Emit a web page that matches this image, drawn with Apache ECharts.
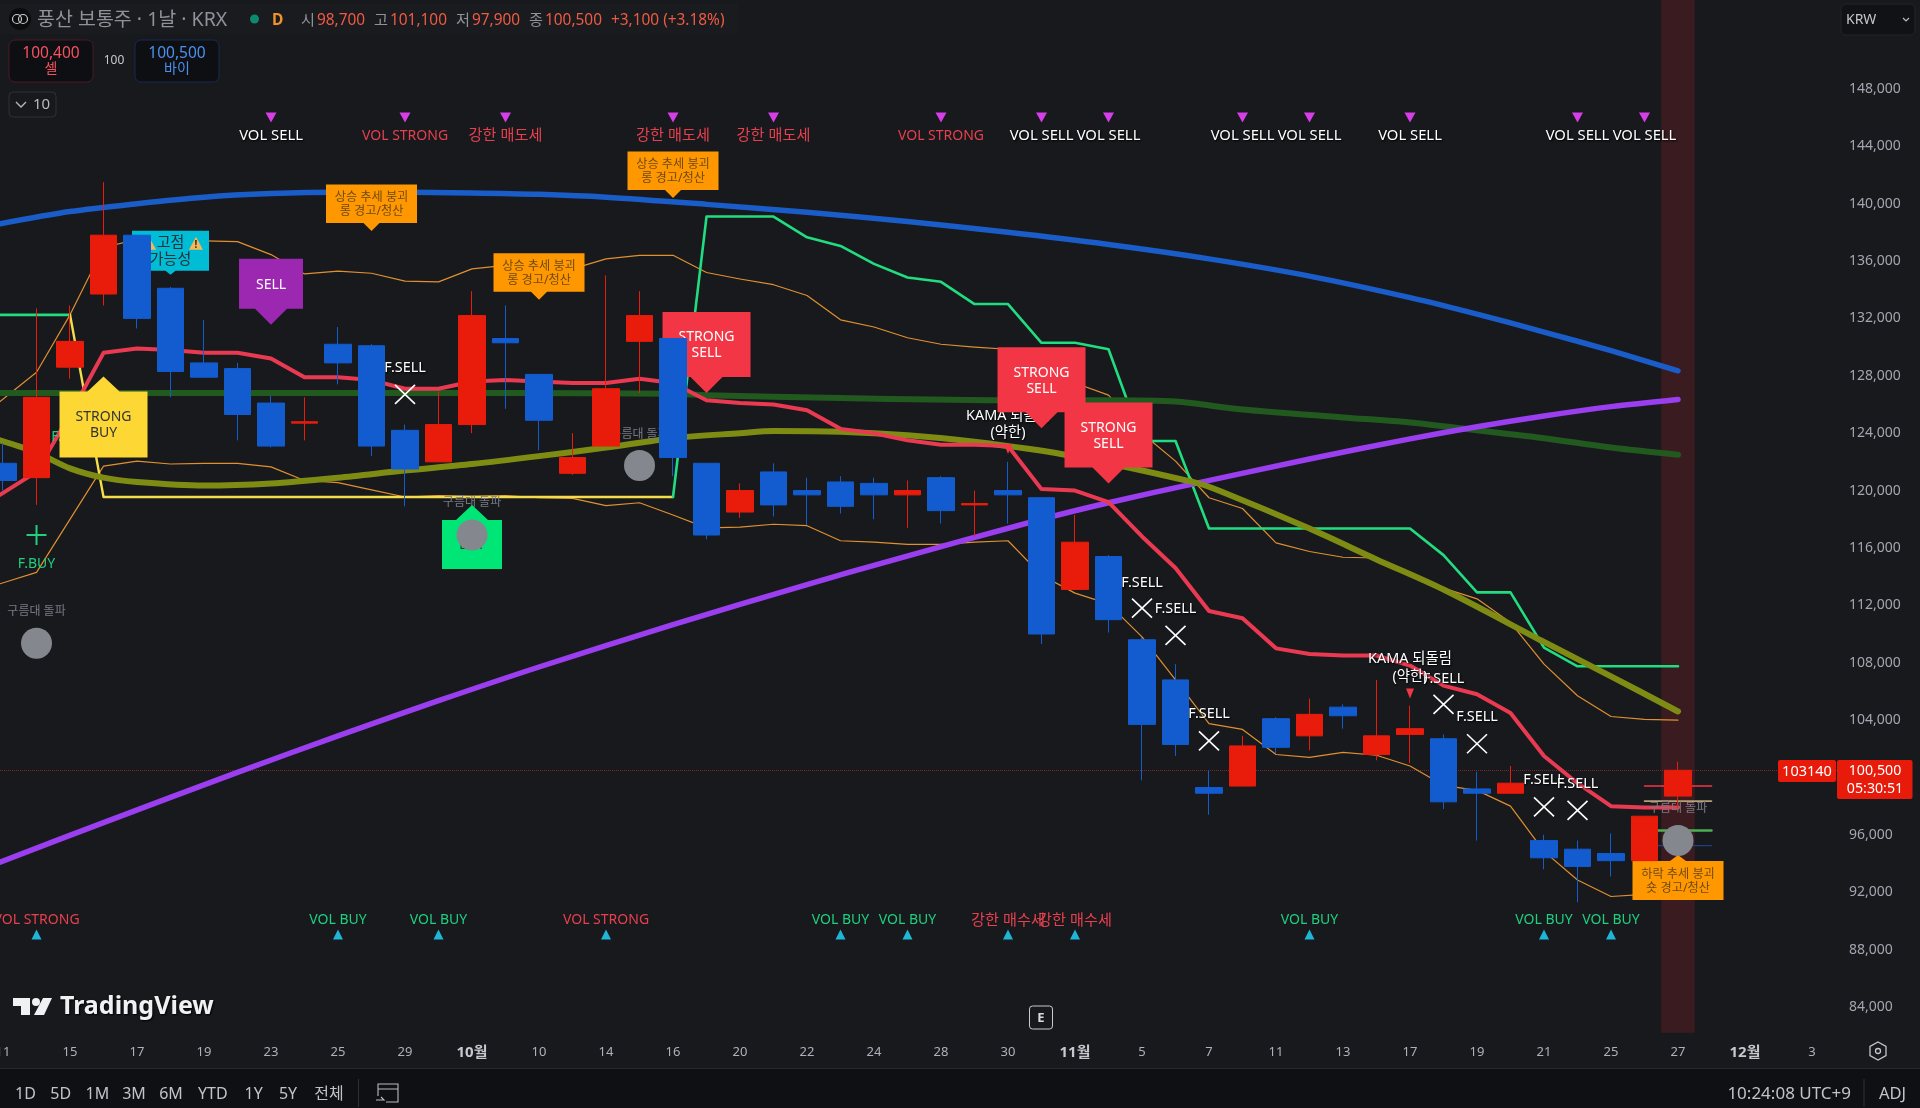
<!DOCTYPE html>
<html lang="ko"><head><meta charset="utf-8">
<style>html,body{margin:0;padding:0;background:#17191d}#c{width:1920px;height:1108px}</style>
<script src="https://cdn.jsdelivr.net/npm/echarts@6/dist/echarts.min.js"></script>
</head><body><div id="c"></div>
<script>
// ---------- data ----------
const barIndex = [...Array(51).keys()];
const opens  = [121900,120900,128600,133700,137800,134100,128900,128500,126100,124700,130200,130100,124200,122000,124600,130600,128100,121200,123100,130400,130600,121900,118500,121300,120000,120600,120500,119700,120900,119000,120000,119500,113100,115400,109600,106800,99300,99400,104100,102900,104900,101600,103000,102700,99200,98900,95600,95000,94700,94200,98700];
const closes = [120700,126500,130400,137800,132000,128300,127900,125300,123100,124800,128900,123100,121500,124600,132200,130300,124900,122300,127100,132200,122300,116900,120000,119000,119700,118900,119700,120000,118600,119100,119700,110000,116400,111000,103700,102300,98900,102200,102100,104400,104300,102900,103400,98300,98900,99600,94400,93800,94200,97300,100500];
const lows   = [120000,119000,127800,132900,131300,126500,127900,123500,123000,123500,127400,122400,118900,122000,124000,125700,122800,121100,123100,126800,121000,116600,118100,118200,117600,118400,118000,117400,117700,116800,117700,109300,113100,110100,99800,101500,97400,99400,101700,101900,103400,101200,101000,97800,95600,98900,93600,91300,93100,94200,97900];
const highs  = [123300,132700,132900,141500,137800,134200,131900,128900,126600,126500,131400,130200,124600,126900,133900,132900,128100,124000,135000,133900,130600,121900,120500,121900,120900,121000,120900,120700,121000,120000,122000,119500,118300,115500,109800,107900,100500,102900,104200,105500,105100,106800,105000,103000,100400,100800,96000,95600,96100,97300,101100];

const kamaLine = [[-0.09,119700],[1,121300],[2,125300],[3,129600],[4,129900],[5,129800],[6,129600],[7,129600],[8,129200],[9,127900],[10,127900],[11,127700],[12,127100],[13,127100],[14,127600],[15,127700],[16,127600],[17,127500],[18,127500],[19,127800],[20,127500],[21,126300],[22,126100],[23,126000],[24,125600],[25,124300],[26,124000],[27,123500],[28,123200],[29,123200],[30,123100],[31,120100],[32,120000],[33,119200],[34,116800],[35,114600],[36,111600],[37,111100],[38,109000],[39,108600],[40,108500],[41,108500],[42,107800],[43,106400],[44,105800],[45,104500],[46,101500],[47,99600],[48,98000],[49,97900],[50,97900]];
const slowGreen = [[-0.09,126800],[5,126800],[10,126800],[15,126800],[20,126750],[21,126650],[25,126450],[30,126300],[33,126300],[35,126200],[37,125650],[40,125100],[42,124750],[44,124200],[46,123650],[48,123000],[50,122500]];
const longBlue = [[-0.09,138600],[2,139450],[4,140000],[6,140450],[8,140700],[10,140800],[12,140800],[14,140750],[16,140650],[18,140450],[21,139950],[24,139400],[27,138750],[30,138000],[33,137150],[36,136150],[39,134950],[42,133450],[44,132300],[46,131050],[48,129750],[50,128350]];
const longPurple = [[-0.09,94100],[3,96850],[7,100350],[10,102900],[13,105350],[16,107700],[20,110650],[24,113450],[26.4,115050],[31,118000],[33,119150],[35.6,120500],[39,122200],[42,123600],[44,124450],[46,125200],[48,125850],[50,126350]];
const oliveLine = [[-0.09,123500],[1,122650],[2,121550],[3,120900],[4,120600],[6,120350],[8,120500],[10,120900],[12,121400],[14,121850],[16,122400],[18,123000],[20,123650],[22,124000],[23,124150],[25,124100],[27,123850],[29,123400],[31.7,122500],[35.6,120550],[36.4,119900],[39,117350],[41,115200],[43,113100],[46,109450],[48,107050],[50,104600]];
const stopGreenA = [[-0.09,132250],[2,132250]];
const stopYellow = [[2,132250],[3,119550],[20,119550]];
const stopGreenB = [[20,119550],[21,139100],[23,139100],[24,137650],[25,137050],[26,135800],[27,134850],[28,134550],[29,133000],[30,133000],[31,130300],[32,130300],[33,129850],[34,123450],[35,123450],[36,117350],[42,117350],[43,115500],[44,112900],[45,112900],[46,109050],[47,107750],[50,107750]];
const bandUpper = [[-0.09,126200],[1,128250],[2,132250],[3,136950],[4,137500],[5,137500],[6,137400],[7,137350],[8,136450],[9,135100],[10,135300],[11,135150],[12,134600],[13,134550],[14,135450],[15,135700],[16,135700],[17,135450],[18,136150],[19,136400],[20,136400],[21,135200],[22,134750],[23,134350],[24,133600],[25,131900],[26,131400],[27,130650],[28,130200],[29,130000],[30,129850],[32,127500],[33,126650],[34,124000],[35,122050],[36,119500],[37,118750],[38,116350],[39,115750],[40,115350],[41,115300],[42,114300],[43,113200],[44,112450],[45,110800],[46,107900],[47,105700],[48,104250],[49,104050],[50,104000]];
const bandLower = [[-0.09,113500],[1,114300],[3,121700],[4,122050],[5,121850],[6,121900],[7,121900],[8,121650],[9,120700],[10,120550],[11,120050],[12,119550],[13,119650],[14,119600],[15,119650],[16,119500],[17,119450],[18,118950],[19,119150],[20,118300],[21,117400],[22,117450],[23,117650],[24,117550],[25,116500],[26,116400],[27,116250],[28,116250],[29,116400],[30,116500],[31,114100],[32,112850],[33,112100],[34,109800],[35,106800],[36,103750],[37,103350],[38,101600],[39,101400],[40,101750],[41,101550],[42,100800],[43,99450],[44,99100],[45,98000],[46,94850],[47,92850],[48,91700],[49,91850],[50,92000]];
const lastRed = [[49,99400],[51,99400]];
const lastTan = [[49,98350],[51,98350]];
const lastGreen = [[49,96300],[51,96300]];
const lastBlue = [[49,95250],[51,95250]];

const lastPrice = 100500;
const stripeFrom = 49.5, stripeTo = 50.5;
const priceTicks = [84000,88000,92000,96000,104000,108000,112000,116000,120000,124000,128000,132000,136000,140000,144000,148000];
const timeTicks = [0,2,4,6,8,10,12,14,16,18,20,22,24,26,28,30,32,34,36,38,40,42,44,46,48,50,52,54];
const timeLabels = ['11','15','17','19','23','25','29','10월','10','14','16','20','22','24','28','30','11월','5','7','11','13','17','19','21','25','27','12월','3'];

const flagKinds = ['cyan','orange','orange','orange','sell','strongBuy','strongSell','strongSell','strongSell','buy','orangeUp'];
const flagBars  = [5,11,16,20,8,3,21,31,33,14,50];
const flagPrice = [135050,138100,133300,140400,131550,127950,126800,124350,120500,119000,94600];
const flagTexts = ['고점\n가능성','상승 추세 붕괴\n롱 경고/청산','상승 추세 붕괴\n롱 경고/청산','상승 추세 붕괴\n롱 경고/청산','SELL','STRONG\nBUY','STRONG\nSELL','STRONG\nSELL','STRONG\nSELL','BUY','하락 추세 붕괴\n숏 경고/청산'];

const sellMarkBars = [8,12,15,20,23,28,31,33,37,39,42,47,49];
const sellMarkTexts = ['VOL SELL','VOL STRONG','강한 매도세','강한 매도세','강한 매도세','VOL STRONG','VOL SELL','VOL SELL','VOL SELL','VOL SELL','VOL SELL','VOL SELL','VOL SELL'];
const sellMarkPrice = 146000, sellTextPrice = 144800;
const buyMarkBars = [1,10,13,18,25,27,30,32,39,46,48];
const buyMarkTexts = ['VOL STRONG','VOL BUY','VOL BUY','VOL STRONG','VOL BUY','VOL BUY','강한 매수세','강한 매수세','VOL BUY','VOL BUY','VOL BUY'];
const buyMarkPrice = 89050, buyTextPrice = 90100;

const fsellBars  = [12,34,35,36,43,44,46,47];
const fsellText  = [128650,113650,111800,104500,106950,104300,99900,99650];
const fsellCross = [126700,111800,109900,102550,105100,102350,97950,97700];
const fbuyCrossBar = [1], fbuyCrossPrice = [116900];
const fbuyBars = [1,2], fbuyText = [114950,123800];
const cloudBars = [1,14,19,50];
const cloudDot  = [109350,116900,121750,95600];
const cloudText = [111650,119200,123950,97900];
const kamaBars = [30,42];
const kamaText = [124700,107700];
const kamaMark = [122900,105850];
const warnBars = [4.36,5.76], warnPrice = [137200,137200];

// ---------- styling ----------
const FONT = '"Noto Sans","Noto Sans CJK KR",sans-serif';
const BG = '#17191d';
const FLAG = {
  cyan:{w:77,h:40,ah:4,aw:5,fill:'#00bcd4',ink:'#26303a',fs:15,lh:17},
  orange:{w:91,h:38.5,ah:8,aw:8,fill:'#ff9800',ink:'#6e4a10',fs:12.2,lh:13.5},
  orangeUp:{w:91,h:39,ah:6,aw:8,fill:'#ff9800',ink:'#6e4a10',fs:12.2,lh:13.5,up:1},
  sell:{w:64,h:50,ah:16,aw:16,fill:'#9c27b0',ink:'#fff',fs:14,lh:16},
  strongBuy:{w:88,h:66,ah:15,aw:16,fill:'#fdd835',ink:'#333',fs:14,lh:16,up:1},
  strongSell:{w:88,h:65,ah:16,aw:16,fill:'#f23645',ink:'#fff',fs:14,lh:16},
  buy:{w:60,h:49,ah:15,aw:16,fill:'#00e676',ink:'#333',fs:13,lh:16,up:1}
};
const TEXT = {
  white:{fill:'#fff',fs:14.4,shadow:1},
  vol:{fill:'#fff',fs:14.8,shadow:1},
  redEn:{fill:'#e8404e',fs:14},
  redKo:{fill:'#e8404e',fs:15.2},
  green:{fill:'#1fd07f',fs:14},
  grey:{fill:'#787b86',fs:12}
};
function volStyle(t){ return t==='VOL SELL'?'vol':(t==='VOL BUY'?'green':(t==='VOL STRONG'?'redEn':'redKo')); }

const labelRows=[];
sellMarkBars.forEach((b,k)=>labelRows.push([b,sellTextPrice,sellMarkTexts[k],volStyle(sellMarkTexts[k])]));
buyMarkBars.forEach((b,k)=>labelRows.push([b,buyTextPrice,buyMarkTexts[k],volStyle(buyMarkTexts[k])]));
fsellBars.forEach((b,k)=>labelRows.push([b,fsellText[k],'F.SELL','white']));
fbuyBars.forEach((b,k)=>labelRows.push([b,fbuyText[k],'F.BUY','green']));
cloudBars.forEach((b,k)=>labelRows.push([b,cloudText[k],'구름대 돌파','grey']));
kamaBars.forEach((b,k)=>labelRows.push([b,kamaText[k],'KAMA 되돌림\n(약한)','white']));

const warnRows=warnBars.map((b,k)=>[b,warnPrice[k]]);

const glyphRows=[];
sellMarkBars.forEach(b=>glyphRows.push([b,sellMarkPrice,'down','#d63fe8',5.5,5]));
buyMarkBars.forEach(b=>glyphRows.push([b,buyMarkPrice,'up','#1fb6d6',5,5]));
kamaBars.forEach((b,k)=>glyphRows.push([b,kamaMark[k],'down','#f23645',4,5]));
fsellBars.forEach((b,k)=>glyphRows.push([b,fsellCross[k],'x','#ffffff',10,9.5]));
fbuyCrossBar.forEach((b,k)=>glyphRows.push([b,fbuyCrossPrice[k],'plus','#22d07a',10,10]));

function line(name,data,color,width,smooth,z){
  return {name,type:'line',data,symbol:'none',smooth:smooth?0.3:false,z:z||3,silent:true,clip:false,
    lineStyle:{color,width,cap:'round',join:'round'},animation:false};
}
const grid={left:0,top:0.7,width:1838,height:1032,outerBoundsMode:'none',containLabel:false};
const option={
  animation:false,backgroundColor:BG,
  textStyle:{fontFamily:FONT},
  grid,
  xAxis:{type:'value',min:-0.09,max:54.776,containShape:false,splitLine:{show:false},axisLine:{show:false},axisTick:{show:false},
    axisLabel:{customValues:timeTicks,margin:13,hideOverlap:false,color:'#aeb1ba',fontSize:13,fontFamily:FONT,
      formatter:v=>{const t=timeLabels[timeTicks.indexOf(v)]||'';return t.endsWith('월')?'{m|'+t+'}':t;},
      rich:{m:{fontWeight:'bold',fontSize:15,color:'#c6c8cf',fontFamily:FONT}}}},
  yAxis:{type:'value',position:'right',min:82207,max:154148,scale:true,splitLine:{show:false},axisLine:{show:false},axisTick:{show:false},
    axisLabel:{customValues:priceTicks,margin:11,padding:[2,0,0,0],color:'#a3a6af',fontSize:14,fontFamily:FONT,
      formatter:v=>v.toLocaleString('en-US')}},
  series:[
    {type:'custom',name:'stripe',z:1,silent:true,clip:false,data:[[stripeFrom,stripeTo]],encode:{x:[0,1]},
      renderItem:(p,api)=>{const a=api.coord([api.value(0),154148]),b=api.coord([api.value(1),82207]);
        return {type:'rect',shape:{x:a[0],y:0,width:b[0]-a[0],height:b[1]},style:{fill:'#3a1c20'}};}},
    line('bandUpper',bandUpper,'#e0902f',1.2),
    line('bandLower',bandLower,'#e0902f',1.2),
    line('stopA',stopGreenA,'#22dd80',2.6),
    line('stopY',stopYellow,'#f5dc4a',2.4),
    line('stopB',stopGreenB,'#22dd80',2.6),
    line('slow',slowGreen,'#22591f',6,true),
    line('blue',longBlue,'#1a5cc8',5.5,true),
    line('purple',longPurple,'#9a3ef0',5.5,true),
    line('olive',oliveLine,'#7f8c14',6,true),
    line('kama',kamaLine,'#ea3a52',4),
    line('lastR',lastRed,'#f23645',1.6),
    line('lastT',lastTan,'#b79f74',1.6),
    line('lastG',lastGreen,'#4caf50',2.4),
    line('lastB',lastBlue,'#1d3f8c',1.4),
    {type:'custom',name:'labels',z:3.5,silent:true,clip:false,data:labelRows.map(r=>[r[0],r[1]]),encode:{x:0,y:1},
      renderItem:(p,api)=>{
        const r=labelRows[p.dataIndex],s=TEXT[r[3]],c=api.coord([r[0],r[1]]);
        const st={x:c[0],y:c[1]+1,text:r[2],fill:s.fill,fontSize:s.fs,fontFamily:FONT,align:'center',verticalAlign:'middle',lineHeight:s.fs+3};
        if(s.shadow){st.textShadowColor='#000';st.textShadowBlur=2;st.textShadowOffsetX=1;st.textShadowOffsetY=1;}
        return {type:'text',style:st};}},
    {type:'custom',name:'flags',z:4,silent:true,clip:false,data:flagBars.map((b,k)=>[b,flagPrice[k]]),encode:{x:0,y:1},
      renderItem:(p,api)=>{
        const k=p.dataIndex,s=FLAG[flagKinds[k]],c=api.coord([api.value(0),api.value(1)]),x=c[0],y=c[1];
        const d=s.up?1:-1, y1=y+d*s.ah, y2=y1+d*s.h, l=x-s.w/2, r=x+s.w/2;
        return {type:'group',children:[
          {type:'polygon',shape:{points:[[x,y],[x+s.aw,y1],[r,y1],[r,y2],[l,y2],[l,y1],[x-s.aw,y1]]},style:{fill:s.fill}},
          {type:'text',style:{x,y:(y1+y2)/2+1,text:flagTexts[k],fill:s.ink,fontSize:s.fs,fontFamily:FONT,align:'center',verticalAlign:'middle',lineHeight:s.lh}}
        ]};}},
    {type:'custom',name:'warns',z:4.5,silent:true,clip:false,data:warnRows,encode:{x:0,y:1},
      renderItem:(p,api)=>{const c=api.coord([api.value(0),api.value(1)]);
        const S=7;return{type:'group',children:[
          {type:'polygon',shape:{points:[[c[0],c[1]-S],[c[0]+S,c[1]+S-1],[c[0]-S,c[1]+S-1]]},style:{fill:'#f5b85a'}},
          {type:'text',style:{x:c[0],y:c[1]+1.5,text:'!',fill:'#3a2a10',fontSize:10,fontFamily:FONT,fontWeight:'bold',align:'center',verticalAlign:'middle'}}]};}},
    {type:'candlestick',name:'price',z:5,silent:true,clip:false,barWidth:27,
      data:barIndex.map(i=>[i,opens[i],closes[i],lows[i],highs[i]]),encode:{x:0,y:[1,2,3,4]},
      itemStyle:{color:'#e91c0b',color0:'#125ccf',borderColor:'#e91c0b',borderColor0:'#125ccf',borderWidth:1},
      markLine:{silent:true,symbol:'none',label:{show:false},animation:false,z:2,lineStyle:{color:'#7d2626',type:'dotted',width:1},data:[{yAxis:lastPrice}]}},
    {type:'custom',name:'glyphs',z:6,silent:true,clip:false,data:glyphRows.map(r=>[r[0],r[1]]),encode:{x:0,y:1},
      renderItem:(p,api)=>{
        const r=glyphRows[p.dataIndex],c=api.coord([r[0],r[1]]),x=c[0],y=c[1],w=r[4],h=r[5];
        if(r[2]==='down')return{type:'polygon',shape:{points:[[x-w,y-h],[x+w,y-h],[x,y+h]]},style:{fill:r[3]}};
        if(r[2]==='up')return{type:'polygon',shape:{points:[[x-w,y+h],[x+w,y+h],[x,y-h]]},style:{fill:r[3]}};
        const segs=r[2]==='x'?[[x-w,y-h,x+w,y+h],[x-w,y+h,x+w,y-h]]:[[x-w,y,x+w,y],[x,y-h,x,y+h]];
        return{type:'group',children:segs.map(g=>({type:'line',shape:{x1:g[0],y1:g[1],x2:g[2],y2:g[3]},style:{stroke:r[3],lineWidth:r[2]==='x'?1.6:2}}))};}},
    {type:'custom',name:'cloud',z:6,silent:true,clip:false,data:cloudBars.map((b,k)=>[b,cloudDot[k]]),encode:{x:0,y:1},
      renderItem:(p,api)=>{const c=api.coord([api.value(0),api.value(1)]);
        return{type:'circle',shape:{cx:c[0],cy:c[1],r:15.5},style:{fill:'#85878f'}};}}
  ],
  graphic:{elements:[]}
};

// ---------- terminal chrome ----------
const G=option.graphic.elements;
const T=(x,y,text,fill,fs,extra)=>G.push({type:'text',z:50,x,y,style:Object.assign({text,fill,fontSize:fs,fontFamily:FONT,verticalAlign:'middle'},extra||{})});
const R=(x,y,w,h,fill,stroke,r)=>G.push({type:'rect',z:49,shape:{x,y,width:w,height:h,r:r||0},style:{fill,stroke:stroke||null,lineWidth:1}});
R(0,1069,1920,39,'#0e1013');
G.push({type:'line',z:50,shape:{x1:0,y1:1068.5,x2:1920,y2:1068.5},style:{stroke:'#26282d',lineWidth:1}});
// header
R(0,4,738,30,'#191b1f');
G.push({type:'circle',z:50,shape:{cx:20,cy:19,r:11},style:{fill:'#0b0c0e'}});
G.push({type:'circle',z:51,shape:{cx:17,cy:19,r:4.5},style:{fill:null,stroke:'#c8c9cc',lineWidth:1.2}});
G.push({type:'circle',z:51,shape:{cx:23,cy:19,r:4.5},style:{fill:null,stroke:'#c8c9cc',lineWidth:1.2}});
T(37,20.5,'풍산 보통주 · 1날 · KRX','#8f9299',19.5);
G.push({type:'circle',z:50,shape:{cx:254.5,cy:19,r:4.5},style:{fill:'#0b8a70'}});
T(272,20.5,'D','#f0932b',15.5,{fontWeight:'bold'});
const up='#ef5a44',lab='#8f9299';
T(301,20.5,'시',lab,15.2);T(317,20.5,'98,700',up,15.4);
T(374,20.5,'고',lab,15.2);T(390,20.5,'101,100',up,15.4);
T(456,20.5,'저',lab,15.2);T(472,20.5,'97,900',up,15.4);
T(529,20.5,'종',lab,15.2);T(545,20.5,'100,500',up,15.4);
T(611,20.5,'+3,100 (+3.18%)',up,15.4);
R(9,40,84,42,'#0e0f12','#4a1b22',6);R(135,40,84,42,'#0e0f12','#172a55',6);
T(51,54,'100,400','#f7525f',15.5,{align:'center'});T(51,69.5,'셀','#f7525f',14,{align:'center'});
T(114,61,'100','#c9cacd',12,{align:'center'});
T(177,54,'100,500','#4d90f0',15.5,{align:'center'});T(177,69.5,'바이','#4d90f0',14,{align:'center'});
R(9,92,47,25,'#17191d','#2e3036',4);
G.push({type:'polyline',z:50,shape:{points:[[16,102],[21,107],[26,102]]},style:{stroke:'#b9bbc0',lineWidth:1.3,fill:null}});
T(33,104.5,'10','#b9bbc0',15);
R(1841,4,74,31,'#101215','#22242a',5);
T(1846,20,'KRW','#c4c6cb',14);
G.push({type:'polyline',z:50,shape:{points:[[1903,18],[1906,21],[1909,18]]},style:{stroke:'#b9bbc0',lineWidth:1.2,fill:null}});
// price tags
R(1778,760,58,22,'#e81a0a',null,2);
T(1807,771.5,'103140','#fff',14.5,{align:'center'});
R(1837,760,75.5,39,'#e81a0a',null,2);
T(1875,771,'100,500','#fff',14.2,{align:'center'});
T(1875,789,'05:30:51','#fff',14.2,{align:'center'});
// logo
const logoFill='#f0f1f3';
G.push({type:'polygon',z:50,shape:{points:[[13,998],[30,998],[30,1015],[21,1015],[21,1006],[13,1006]]},style:{fill:logoFill}});
G.push({type:'circle',z:50,shape:{cx:36,cy:1002,r:4},style:{fill:logoFill}});
G.push({type:'polygon',z:50,shape:{points:[[43,998],[52,998],[44,1015],[34,1015]]},style:{fill:logoFill}});
T(60,1006.5,'TradingView','#f0f1f3',25,{fontWeight:'bold',textShadowColor:'#000',textShadowBlur:2,textShadowOffsetX:1,textShadowOffsetY:1});
// E box
R(1029.5,1006,23,23,'#17191d','#c9cacd',3);
T(1041,1018,'E','#d9dadd',13,{align:'center',fontWeight:'bold'});
// gear
G.push({type:'polygon',z:50,shape:{points:[[1878,1042],[1886,1046.5],[1886,1055.5],[1878,1060],[1870,1055.5],[1870,1046.5]]},style:{fill:null,stroke:'#c4c6cb',lineWidth:1.3}});
G.push({type:'circle',z:50,shape:{cx:1878,cy:1051,r:2.5},style:{fill:null,stroke:'#c4c6cb',lineWidth:1.3}});
// range buttons
const rangeLabels=['1D','5D','1M','3M','6M','YTD','1Y','5Y','전체'];
[25.5,60.7,97.4,134,171,212.8,253.6,288,329].forEach((x,k)=>T(x,1094,rangeLabels[k],'#c1c3c9',16,{align:'center'}));
G.push({type:'line',z:50,shape:{x1:358.5,y1:1079,x2:358.5,y2:1107},style:{stroke:'#2e3036',lineWidth:1}});
G.push({type:'polyline',z:50,shape:{points:[[378,1096],[378,1084],[398,1084],[398,1102],[386,1102]]},style:{fill:null,stroke:'#b9bbc0',lineWidth:1.1}});
G.push({type:'line',z:50,shape:{x1:378,y1:1089,x2:398,y2:1089},style:{stroke:'#b9bbc0',lineWidth:1}});
G.push({type:'polyline',z:50,shape:{points:[[376,1100],[384,1100],[381,1097]]},style:{fill:null,stroke:'#b9bbc0',lineWidth:1.1}});
T(1851,1094,'10:24:08 UTC+9','#c1c3c9',17,{align:'right'});
G.push({type:'line',z:50,shape:{x1:1864,y1:1079,x2:1864,y2:1107},style:{stroke:'#2e3036',lineWidth:1}});
T(1892.5,1094,'ADJ','#c1c3c9',16.5,{align:'center'});

const chart=echarts.init(document.getElementById('c'),null,{renderer:'canvas',width:1920,height:1108});
chart.setOption(option);
</script></body></html>
